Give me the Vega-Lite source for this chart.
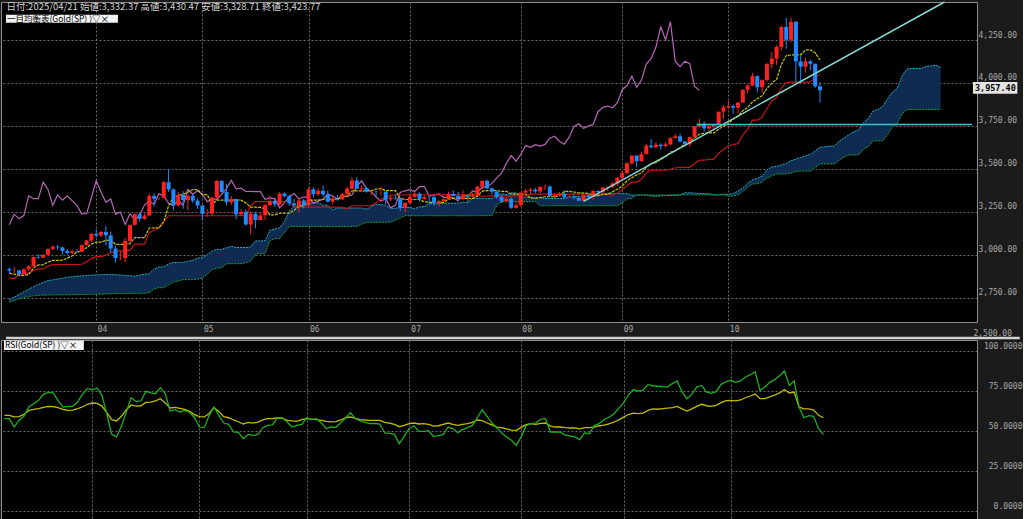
{
"$schema": "https://vega.github.io/schema/vega-lite/v6.json",
"background": "#1b1b1b",
"padding": 0,
"bounds": "flush",
"spacing": 18,
"config": {
 "view": {"fill": "#000000", "stroke": "#8c8c8c", "strokeWidth": 1},
 "axis": {"grid": true, "gridColor": "#6a6a6a", "gridDash": [2, 2], "gridOpacity": 1, "domain": false, "ticks": false, "labelColor": "#a8a8a8", "labelFont": "DejaVu Sans Mono", "labelFontSize": 8}
},
"datasets": {
"note": [{"i": 0}],
"ohlc": [
{"i":0,"o":2918,"h":2927,"l":2895,"c":2910,"tk":2894,"kj":2864,"rsi":57.7,"ma":59.8},
{"i":1,"o":2910,"h":2930,"l":2896,"c":2910,"tk":2888,"kj":2864,"rsi":57.7,"ma":59.8},
{"i":2,"o":2910,"h":2914,"l":2880,"c":2889,"tk":2881,"kj":2883,"rsi":52.5,"ma":58.8},
{"i":3,"o":2889,"h":2922,"l":2881,"c":2916,"tk":2881,"kj":2894,"rsi":56.7,"ma":59},
{"i":4,"o":2916,"h":2940,"l":2906,"c":2934,"tk":2886,"kj":2894,"rsi":59.2,"ma":60.4},
{"i":5,"o":2934,"h":2990,"l":2930,"c":2988,"tk":2924,"kj":2911,"rsi":65,"ma":62.9},
{"i":6,"o":2988,"h":3005,"l":2978,"c":2984,"tk":2942.5,"kj":2918.5,"rsi":67.1,"ma":63.5},
{"i":7,"o":2984,"h":3004,"l":2982,"c":3001,"tk":2942.5,"kj":2918.5,"rsi":69.2,"ma":64},
{"i":8,"o":3001,"h":3038,"l":2999,"c":3035,"tk":2959,"kj":2935,"rsi":72.9,"ma":64.8},
{"i":9,"o":3035,"h":3056,"l":3026,"c":3048,"tk":2968,"kj":2944,"rsi":74.2,"ma":65.4},
{"i":10,"o":3048,"h":3057,"l":3028,"c":3044,"tk":2968.5,"kj":2944.5,"rsi":73.8,"ma":65.2},
{"i":11,"o":3044,"h":3047,"l":2999,"c":3023,"tk":2969,"kj":2944.5,"rsi":69.2,"ma":64.6},
{"i":12,"o":3023,"h":3034,"l":3002,"c":3011,"tk":2981.5,"kj":2944.5,"rsi":65,"ma":63.5},
{"i":13,"o":3011,"h":3030,"l":3007,"c":3020,"tk":2993.5,"kj":2944.5,"rsi":65.4,"ma":62.9},
{"i":14,"o":3020,"h":3032,"l":3013,"c":3019,"tk":3017.5,"kj":2944.5,"rsi":65.4,"ma":63.1},
{"i":15,"o":3019,"h":3060,"l":3017,"c":3057,"tk":3021,"kj":2946,"rsi":68.1,"ma":64},
{"i":16,"o":3057,"h":3087,"l":3055,"c":3084,"tk":3043,"kj":2959.5,"rsi":72.9,"ma":65},
{"i":17,"o":3084,"h":3128,"l":3076,"c":3123,"tk":3063.5,"kj":2980,"rsi":76.5,"ma":66.7},
{"i":18,"o":3123,"h":3149,"l":3100,"c":3113,"tk":3074,"kj":2990.5,"rsi":75.8,"ma":67.5},
{"i":19,"o":3113,"h":3140,"l":3104,"c":3134,"tk":3074,"kj":2990.5,"rsi":76.9,"ma":67.3},
{"i":20,"o":3134,"h":3168,"l":3054,"c":3114,"tk":3085,"kj":3000,"rsi":72.3,"ma":65.6},
{"i":21,"o":3114,"h":3136,"l":3015,"c":3037,"tk":3087.5,"kj":3013,"rsi":60.8,"ma":61.5},
{"i":22,"o":3037,"h":3055,"l":2956,"c":2982,"tk":3062,"kj":3024,"rsi":47.9,"ma":57.1},
{"i":23,"o":2982,"h":3023,"l":2970,"c":2982,"tk":3062,"kj":3024,"rsi":46.3,"ma":56.3},
{"i":24,"o":2982,"h":3099,"l":2957,"c":3082,"tk":3062,"kj":3024,"rsi":52.9,"ma":59.2},
{"i":25,"o":3082,"h":3176,"l":3073,"c":3175,"tk":3066,"kj":3028,"rsi":61.9,"ma":63.3},
{"i":26,"o":3175,"h":3245,"l":3171,"c":3237,"tk":3100.5,"kj":3062.5,"rsi":70.8,"ma":66.3},
{"i":27,"o":3237,"h":3245,"l":3193,"c":3210,"tk":3100.5,"kj":3062.5,"rsi":68.5,"ma":65.6},
{"i":28,"o":3210,"h":3240,"l":3204,"c":3229,"tk":3100.5,"kj":3063,"rsi":68.8,"ma":65.8},
{"i":29,"o":3229,"h":3357,"l":3229,"c":3343,"tk":3156.5,"kj":3131.5,"rsi":74.8,"ma":67.9},
{"i":30,"o":3343,"h":3358,"l":3283,"c":3327,"tk":3157,"kj":3144,"rsi":73.8,"ma":68.1},
{"i":31,"o":3327,"h":3335,"l":3320,"c":3327,"tk":3157.5,"kj":3157,"rsi":73.3,"ma":68.8},
{"i":32,"o":3332,"h":3430,"l":3329,"c":3423,"tk":3193.5,"kj":3193,"rsi":77.1,"ma":70.2},
{"i":33,"o":3423,"h":3500,"l":3367,"c":3381,"tk":3286.5,"kj":3228,"rsi":73.3,"ma":67.5},
{"i":34,"o":3381,"h":3386,"l":3260,"c":3288,"tk":3335.5,"kj":3228,"rsi":62.5,"ma":64.4},
{"i":35,"o":3288,"h":3367,"l":3283,"c":3349,"tk":3346.5,"kj":3228,"rsi":63.3,"ma":64.8},
{"i":36,"o":3349,"h":3371,"l":3268,"c":3319,"tk":3352,"kj":3228,"rsi":61.9,"ma":64.2},
{"i":37,"o":3319,"h":3351,"l":3260,"c":3344,"tk":3364.5,"kj":3228,"rsi":62.9,"ma":63.5},
{"i":38,"o":3344,"h":3353,"l":3303,"c":3316,"tk":3380,"kj":3228,"rsi":61.7,"ma":62.3},
{"i":39,"o":3316,"h":3329,"l":3268,"c":3288,"tk":3380,"kj":3228,"rsi":58.3,"ma":60.2},
{"i":40,"o":3288,"h":3290,"l":3202,"c":3239,"tk":3351,"kj":3228,"rsi":52.5,"ma":59},
{"i":41,"o":3239,"h":3269,"l":3222,"c":3240,"tk":3351,"kj":3228,"rsi":52.1,"ma":58.8},
{"i":42,"o":3240,"h":3336,"l":3228,"c":3334,"tk":3294,"kj":3228,"rsi":59.8,"ma":61},
{"i":43,"o":3334,"h":3435,"l":3323,"c":3431,"tk":3318.5,"kj":3228,"rsi":65,"ma":64.6},
{"i":44,"o":3431,"h":3433,"l":3363,"c":3366,"tk":3318.5,"kj":3228,"rsi":59.8,"ma":62.1},
{"i":45,"o":3366,"h":3414,"l":3288,"c":3306,"tk":3318.5,"kj":3228,"rsi":55,"ma":59},
{"i":46,"o":3306,"h":3342,"l":3292,"c":3325,"tk":3318.5,"kj":3228,"rsi":54.2,"ma":58.3},
{"i":47,"o":3325,"h":3325,"l":3208,"c":3236,"tk":3318.5,"kj":3228,"rsi":49.4,"ma":56.9},
{"i":48,"o":3236,"h":3265,"l":3228,"c":3250,"tk":3318.5,"kj":3228.5,"rsi":49.2,"ma":55.8},
{"i":49,"o":3250,"h":3265,"l":3171,"c":3177,"tk":3303,"kj":3228.5,"rsi":45.2,"ma":54.4},
{"i":50,"o":3177,"h":3252,"l":3120,"c":3240,"tk":3277.5,"kj":3286.5,"rsi":47.9,"ma":55.4},
{"i":51,"o":3240,"h":3252,"l":3154,"c":3203,"tk":3277.5,"kj":3310,"rsi":47.1,"ma":55},
{"i":52,"o":3203,"h":3250,"l":3200,"c":3230,"tk":3276.5,"kj":3310,"rsi":47.9,"ma":55.6},
{"i":53,"o":3230,"h":3295,"l":3205,"c":3290,"tk":3267,"kj":3310,"rsi":52.1,"ma":56.9},
{"i":54,"o":3290,"h":3345,"l":3285,"c":3314,"tk":3232.5,"kj":3310,"rsi":53.5,"ma":57.7},
{"i":55,"o":3314,"h":3325,"l":3278,"c":3294,"tk":3232.5,"kj":3310,"rsi":53.8,"ma":57.7},
{"i":56,"o":3294,"h":3365,"l":3287,"c":3357,"tk":3242.5,"kj":3310,"rsi":58.3,"ma":58.3},
{"i":57,"o":3357,"h":3364,"l":3336,"c":3342,"tk":3242.5,"kj":3310,"rsi":58.3,"ma":58.1},
{"i":58,"o":3342,"h":3350,"l":3286,"c":3300,"tk":3242.5,"kj":3310,"rsi":55.6,"ma":56.7},
{"i":59,"o":3300,"h":3326,"l":3280,"c":3288,"tk":3259.5,"kj":3277.5,"rsi":52.5,"ma":56.3},
{"i":60,"o":3288,"h":3330,"l":3245,"c":3317,"tk":3282.5,"kj":3277.5,"rsi":53.5,"ma":56},
{"i":61,"o":3317,"h":3326,"l":3271,"c":3289,"tk":3285,"kj":3277.5,"rsi":54.2,"ma":57.1},
{"i":62,"o":3289,"h":3392,"l":3279,"c":3381,"tk":3318.5,"kj":3277.5,"rsi":58.3,"ma":57.7},
{"i":63,"o":3381,"h":3392,"l":3333,"c":3353,"tk":3318.5,"kj":3277.5,"rsi":57.1,"ma":57.5},
{"i":64,"o":3353,"h":3386,"l":3343,"c":3373,"tk":3318.5,"kj":3277.5,"rsi":57.7,"ma":57.1},
{"i":65,"o":3373,"h":3403,"l":3340,"c":3352,"tk":3324,"kj":3277.5,"rsi":55,"ma":56.7},
{"i":66,"o":3352,"h":3375,"l":3306,"c":3310,"tk":3324,"kj":3277.5,"rsi":51.5,"ma":56},
{"i":67,"o":3310,"h":3339,"l":3293,"c":3326,"tk":3324,"kj":3277.5,"rsi":52.5,"ma":55.7},
{"i":68,"o":3326,"h":3349,"l":3315,"c":3323,"tk":3324,"kj":3277.5,"rsi":52.3,"ma":55.9},
{"i":69,"o":3323,"h":3360,"l":3320,"c":3354,"tk":3337,"kj":3276.5,"rsi":55.2,"ma":56.9},
{"i":70,"o":3354,"h":3398,"l":3340,"c":3386,"tk":3341,"kj":3267,"rsi":58.3,"ma":58.3},
{"i":71,"o":3386,"h":3451,"l":3380,"c":3433,"tk":3372,"kj":3285.5,"rsi":61.5,"ma":58.8},
{"i":72,"o":3433,"h":3452,"l":3383,"c":3385,"tk":3372.5,"kj":3286,"rsi":57.7,"ma":57.9},
{"i":73,"o":3385,"h":3404,"l":3366,"c":3389,"tk":3372.5,"kj":3286,"rsi":56.3,"ma":57.1},
{"i":74,"o":3389,"h":3395,"l":3362,"c":3369,"tk":3372.5,"kj":3286,"rsi":55.4,"ma":56.9},
{"i":75,"o":3369,"h":3374,"l":3347,"c":3370,"tk":3372.5,"kj":3286,"rsi":54.6,"ma":56.7},
{"i":76,"o":3370,"h":3374,"l":3340,"c":3368,"tk":3383.5,"kj":3303,"rsi":54.8,"ma":56.7},
{"i":77,"o":3368,"h":3398,"l":3347,"c":3368,"tk":3386,"kj":3326,"rsi":54.4,"ma":56.7},
{"i":78,"o":3368,"h":3371,"l":3296,"c":3323,"tk":3374,"kj":3328.5,"rsi":48.8,"ma":55.4},
{"i":79,"o":3323,"h":3347,"l":3312,"c":3332,"tk":3374,"kj":3348.5,"rsi":48.5,"ma":55},
{"i":80,"o":3332,"h":3350,"l":3321,"c":3328,"tk":3374,"kj":3348.5,"rsi":47.9,"ma":54.2},
{"i":81,"o":3328,"h":3330,"l":3255,"c":3274,"tk":3329.5,"kj":3348.5,"rsi":42.1,"ma":52.7},
{"i":82,"o":3274,"h":3305,"l":3247,"c":3303,"tk":3322.5,"kj":3348.5,"rsi":46.7,"ma":53.5},
{"i":83,"o":3303,"h":3358,"l":3296,"c":3338,"tk":3322.5,"kj":3348.5,"rsi":51.5,"ma":54.6},
{"i":84,"o":3338,"h":3365,"l":3330,"c":3357,"tk":3322.5,"kj":3348.5,"rsi":53.3,"ma":55},
{"i":85,"o":3357,"h":3365,"l":3311,"c":3326,"tk":3322.5,"kj":3348.5,"rsi":49.8,"ma":54.4},
{"i":86,"o":3326,"h":3345,"l":3322,"c":3337,"tk":3309,"kj":3349.5,"rsi":49.8,"ma":54.6},
{"i":87,"o":3337,"h":3342,"l":3296,"c":3336,"tk":3306,"kj":3349.5,"rsi":50.2,"ma":54.2},
{"i":88,"o":3336,"h":3345,"l":3287,"c":3301,"tk":3306,"kj":3349.5,"rsi":46.7,"ma":53.1},
{"i":89,"o":3301,"h":3318,"l":3282,"c":3313,"tk":3306,"kj":3349.5,"rsi":47.1,"ma":53.3},
{"i":90,"o":3313,"h":3330,"l":3310,"c":3324,"tk":3306,"kj":3349.5,"rsi":47.7,"ma":54.2},
{"i":91,"o":3324,"h":3368,"l":3321,"c":3355,"tk":3325,"kj":3349.5,"rsi":52.5,"ma":55},
{"i":92,"o":3355,"h":3375,"l":3342,"c":3343,"tk":3328.5,"kj":3349.5,"rsi":51.5,"ma":54.2},
{"i":93,"o":3343,"h":3366,"l":3321,"c":3324,"tk":3328.5,"kj":3349.5,"rsi":49,"ma":53.5},
{"i":94,"o":3324,"h":3377,"l":3319,"c":3347,"tk":3329.5,"kj":3349.5,"rsi":51,"ma":54.2},
{"i":95,"o":3347,"h":3352,"l":3309,"c":3339,"tk":3329.5,"kj":3349.5,"rsi":52.1,"ma":54.6},
{"i":96,"o":3339,"h":3361,"l":3338,"c":3350,"tk":3329.5,"kj":3349.5,"rsi":53.5,"ma":55.4},
{"i":97,"o":3350,"h":3402,"l":3345,"c":3397,"tk":3342,"kj":3349.5,"rsi":58.3,"ma":56.9},
{"i":98,"o":3397,"h":3433,"l":3383,"c":3431,"tk":3371,"kj":3340,"rsi":63.3,"ma":56.5},
{"i":99,"o":3431,"h":3439,"l":3381,"c":3387,"tk":3374,"kj":3343,"rsi":59.2,"ma":55},
{"i":100,"o":3387,"h":3393,"l":3351,"c":3368,"tk":3374,"kj":3343,"rsi":55,"ma":53.8},
{"i":101,"o":3368,"h":3373,"l":3325,"c":3337,"tk":3374,"kj":3343,"rsi":52.1,"ma":52.5},
{"i":102,"o":3337,"h":3345,"l":3301,"c":3314,"tk":3370,"kj":3343,"rsi":48.8,"ma":52.1},
{"i":103,"o":3314,"h":3334,"l":3309,"c":3326,"tk":3370,"kj":3343,"rsi":46.3,"ma":51.3},
{"i":104,"o":3326,"h":3334,"l":3268,"c":3274,"tk":3353.5,"kj":3343,"rsi":44.2,"ma":50.6},
{"i":105,"o":3274,"h":3315,"l":3268,"c":3289,"tk":3353.5,"kj":3343,"rsi":41,"ma":50.4},
{"i":106,"o":3289,"h":3363,"l":3281,"c":3363,"tk":3353.5,"kj":3343,"rsi":46.3,"ma":52.3},
{"i":107,"o":3363,"h":3385,"l":3346,"c":3373,"tk":3353.5,"kj":3343,"rsi":53.3,"ma":54},
{"i":108,"o":3373,"h":3390,"l":3354,"c":3380,"tk":3330.5,"kj":3353.5,"rsi":54.6,"ma":54.6},
{"i":109,"o":3380,"h":3391,"l":3358,"c":3369,"tk":3329.5,"kj":3353.5,"rsi":55,"ma":54.2},
{"i":110,"o":3369,"h":3397,"l":3358,"c":3397,"tk":3332.5,"kj":3353.5,"rsi":57.3,"ma":54.8},
{"i":111,"o":3397,"h":3409,"l":3376,"c":3398,"tk":3338.5,"kj":3353.5,"rsi":57.7,"ma":55},
{"i":112,"o":3398,"h":3405,"l":3342,"c":3342,"tk":3338.5,"kj":3353.5,"rsi":49.4,"ma":53.1},
{"i":113,"o":3342,"h":3359,"l":3331,"c":3348,"tk":3338.5,"kj":3353.5,"rsi":49.4,"ma":52.5},
{"i":114,"o":3348,"h":3365,"l":3341,"c":3355,"tk":3345,"kj":3353.5,"rsi":49.4,"ma":52.5},
{"i":115,"o":3355,"h":3375,"l":3330,"c":3335,"tk":3369.5,"kj":3353.5,"rsi":47.5,"ma":52.1},
{"i":116,"o":3335,"h":3348,"l":3330,"c":3336,"tk":3369.5,"kj":3353.5,"rsi":46.9,"ma":51.9},
{"i":117,"o":3336,"h":3358,"l":3323,"c":3332,"tk":3366,"kj":3353.5,"rsi":46.3,"ma":51.9},
{"i":118,"o":3332,"h":3335,"l":3314,"c":3315,"tk":3361.5,"kj":3353.5,"rsi":44.6,"ma":51.3},
{"i":119,"o":3315,"h":3350,"l":3311,"c":3348,"tk":3360,"kj":3353.5,"rsi":48.8,"ma":52.1},
{"i":120,"o":3348,"h":3352,"l":3323,"c":3339,"tk":3358,"kj":3353.5,"rsi":48.3,"ma":52.1},
{"i":121,"o":3339,"h":3379,"l":3321,"c":3372,"tk":3345,"kj":3353.5,"rsi":53.5,"ma":52.5},
{"i":122,"o":3372,"h":3376,"l":3351,"c":3365,"tk":3345,"kj":3353.5,"rsi":54.6,"ma":53.3},
{"i":123,"o":3365,"h":3393,"l":3351,"c":3393,"tk":3352,"kj":3353.5,"rsi":57.2,"ma":53.7},
{"i":124,"o":3393,"h":3394,"l":3372,"c":3397,"tk":3352.5,"kj":3353.5,"rsi":58.6,"ma":54.5},
{"i":125,"o":3397,"h":3424,"l":3390,"c":3416,"tk":3367.5,"kj":3346,"rsi":60.6,"ma":55.5},
{"i":126,"o":3416,"h":3453,"l":3400,"c":3448,"tk":3382,"kj":3360.5,"rsi":64.2,"ma":57},
{"i":127,"o":3448,"h":3490,"l":3436,"c":3476,"tk":3400.5,"kj":3379,"rsi":67.6,"ma":58.7},
{"i":128,"o":3476,"h":3540,"l":3470,"c":3533,"tk":3430.5,"kj":3404,"rsi":72.5,"ma":60.3},
{"i":129,"o":3533,"h":3578,"l":3525,"c":3578,"tk":3449.5,"kj":3423,"rsi":75.9,"ma":61.2},
{"i":130,"o":3578,"h":3580,"l":3510,"c":3545,"tk":3465.5,"kj":3424,"rsi":74.9,"ma":60.9},
{"i":131,"o":3545,"h":3600,"l":3542,"c":3586,"tk":3475.5,"kj":3440.5,"rsi":75.6,"ma":61.2},
{"i":132,"o":3586,"h":3646,"l":3585,"c":3636,"tk":3509,"kj":3478.5,"rsi":79,"ma":62.9},
{"i":133,"o":3636,"h":3674,"l":3621,"c":3626,"tk":3532,"kj":3492.5,"rsi":78.3,"ma":63.8},
{"i":134,"o":3626,"h":3655,"l":3620,"c":3641,"tk":3537,"kj":3492.5,"rsi":78,"ma":63.6},
{"i":135,"o":3641,"h":3650,"l":3612,"c":3633,"tk":3555,"kj":3492.5,"rsi":77.7,"ma":64},
{"i":136,"o":3633,"h":3655,"l":3625,"c":3643,"tk":3572,"kj":3492.5,"rsi":77.5,"ma":64.3},
{"i":137,"o":3643,"h":3685,"l":3638,"c":3679,"tk":3597.5,"kj":3498,"rsi":79.6,"ma":64.6},
{"i":138,"o":3679,"h":3703,"l":3678,"c":3690,"tk":3606.5,"kj":3507,"rsi":81.3,"ma":65.4},
{"i":139,"o":3690,"h":3707,"l":3654,"c":3660,"tk":3624.5,"kj":3509,"rsi":74.4,"ma":63.8},
{"i":140,"o":3660,"h":3663,"l":3628,"c":3644,"tk":3646,"kj":3509,"rsi":70.2,"ma":62.5},
{"i":141,"o":3644,"h":3688,"l":3632,"c":3685,"tk":3659.5,"kj":3509,"rsi":72.9,"ma":63.8},
{"i":142,"o":3685,"h":3749,"l":3684,"c":3747,"tk":3680.5,"kj":3530,"rsi":77.5,"ma":65.4},
{"i":143,"o":3747,"h":3791,"l":3742,"c":3763,"tk":3701.5,"kj":3551,"rsi":78.5,"ma":66.7},
{"i":144,"o":3763,"h":3776,"l":3717,"c":3736,"tk":3708,"kj":3551,"rsi":74.4,"ma":65.8},
{"i":145,"o":3736,"h":3761,"l":3722,"c":3749,"tk":3709.5,"kj":3556,"rsi":73.5,"ma":65.4},
{"i":146,"o":3749,"h":3762,"l":3722,"c":3760,"tk":3709.5,"kj":3556,"rsi":74.6,"ma":66},
{"i":147,"o":3760,"h":3834,"l":3757,"c":3833,"tk":3731,"kj":3592.5,"rsi":79.2,"ma":67.7},
{"i":148,"o":3833,"h":3872,"l":3792,"c":3858,"tk":3750,"kj":3611.5,"rsi":80.8,"ma":69},
{"i":149,"o":3858,"h":3895,"l":3850,"c":3866,"tk":3763.5,"kj":3633.5,"rsi":81.7,"ma":69.2},
{"i":150,"o":3866,"h":3875,"l":3820,"c":3856,"tk":3789.5,"kj":3642.5,"rsi":80.4,"ma":68.8},
{"i":151,"o":3856,"h":3889,"l":3823,"c":3886,"tk":3806,"kj":3647.5,"rsi":81.3,"ma":69.4},
{"i":152,"o":3886,"h":3962,"l":3884,"c":3961,"tk":3839.5,"kj":3699,"rsi":83.8,"ma":70.8},
{"i":153,"o":3961,"h":3991,"l":3940,"c":3985,"tk":3856.5,"kj":3730.5,"rsi":85.2,"ma":71.9},
{"i":154,"o":3985,"h":4059,"l":3981,"c":4040,"tk":3890.5,"kj":3784.5,"rsi":86.9,"ma":73.1},
{"i":155,"o":4040,"h":4045,"l":3945,"c":3975,"tk":3908,"kj":3784.5,"rsi":75.4,"ma":70.2},
{"i":156,"o":3975,"h":4022,"l":3947,"c":4017,"tk":3925.5,"kj":3800.5,"rsi":77.5,"ma":70.2},
{"i":157,"o":4017,"h":4116,"l":4007,"c":4110,"tk":3968,"kj":3850.5,"rsi":80.4,"ma":71.3},
{"i":158,"o":4110,"h":4179,"l":4085,"c":4142,"tk":3999.5,"kj":3895.5,"rsi":82.1,"ma":72.5},
{"i":159,"o":4142,"h":4218,"l":4105,"c":4209,"tk":4020.5,"kj":3915,"rsi":84.6,"ma":73.8},
{"i":160,"o":4209,"h":4332,"l":4190,"c":4326,"tk":4108,"kj":3972,"rsi":87.5,"ma":76},
{"i":161,"o":4326,"h":4379,"l":4200,"c":4251,"tk":4159.5,"kj":4002,"rsi":78.5,"ma":73.8},
{"i":162,"o":4251,"h":4381,"l":4235,"c":4356,"tk":4163,"kj":4004.5,"rsi":81.3,"ma":74.4},
{"i":163,"o":4356,"h":4360,"l":4003,"c":4125,"tk":4163,"kj":4004.5,"rsi":65,"ma":65},
{"i":164,"o":4125,"h":4161,"l":4004,"c":4095,"tk":4164,"kj":4004.5,"rsi":58.3,"ma":63.8},
{"i":165,"o":4095,"h":4147,"l":4060,"c":4126,"tk":4192,"kj":4004.5,"rsi":59.6,"ma":63.8},
{"i":166,"o":4126,"h":4137,"l":4073,"c":4112,"tk":4192,"kj":4006.5,"rsi":59.2,"ma":63.1},
{"i":167,"o":4112,"h":4112,"l":3971,"c":3981,"tk":4176,"kj":4032.5,"rsi":51.5,"ma":59.8},
{"i":168,"o":3981,"h":4004,"l":3886,"c":3957,"tk":4133.5,"kj":4049,"rsi":47.9,"ma":58.3}
],
"chikou": [
{"i":0,"v":3175},{"i":1,"v":3237},{"i":2,"v":3210},{"i":3,"v":3229},{"i":4,"v":3343},{"i":5,"v":3327},{"i":6,"v":3327},{"i":7,"v":3423},{"i":8,"v":3381},{"i":9,"v":3288},
{"i":10,"v":3349},{"i":11,"v":3319},{"i":12,"v":3344},{"i":13,"v":3316},{"i":14,"v":3288},{"i":15,"v":3239},{"i":16,"v":3240},{"i":17,"v":3334},{"i":18,"v":3431},{"i":19,"v":3366},
{"i":20,"v":3306},{"i":21,"v":3325},{"i":22,"v":3236},{"i":23,"v":3250},{"i":24,"v":3177},{"i":25,"v":3240},{"i":26,"v":3203},{"i":27,"v":3230},{"i":28,"v":3290},{"i":29,"v":3314},
{"i":30,"v":3294},{"i":31,"v":3357},{"i":32,"v":3342},{"i":33,"v":3300},{"i":34,"v":3288},{"i":35,"v":3317},{"i":36,"v":3289},{"i":37,"v":3381},{"i":38,"v":3353},{"i":39,"v":3373},
{"i":40,"v":3352},{"i":41,"v":3310},{"i":42,"v":3326},{"i":43,"v":3323},{"i":44,"v":3354},{"i":45,"v":3386},{"i":46,"v":3433},{"i":47,"v":3385},{"i":48,"v":3389},{"i":49,"v":3369},
{"i":50,"v":3370},{"i":51,"v":3368},{"i":52,"v":3368},{"i":53,"v":3323},{"i":54,"v":3332},{"i":55,"v":3328},{"i":56,"v":3274},{"i":57,"v":3303},{"i":58,"v":3338},{"i":59,"v":3357},
{"i":60,"v":3326},{"i":61,"v":3337},{"i":62,"v":3336},{"i":63,"v":3301},{"i":64,"v":3313},{"i":65,"v":3324},{"i":66,"v":3355},{"i":67,"v":3343},{"i":68,"v":3324},{"i":69,"v":3347},
{"i":70,"v":3339},{"i":71,"v":3350},{"i":72,"v":3397},{"i":73,"v":3431},{"i":74,"v":3387},{"i":75,"v":3368},{"i":76,"v":3337},{"i":77,"v":3314},{"i":78,"v":3326},{"i":79,"v":3274},
{"i":80,"v":3289},{"i":81,"v":3363},{"i":82,"v":3373},{"i":83,"v":3380},{"i":84,"v":3369},{"i":85,"v":3397},{"i":86,"v":3398},{"i":87,"v":3342},{"i":88,"v":3348},{"i":89,"v":3355},
{"i":90,"v":3335},{"i":91,"v":3336},{"i":92,"v":3332},{"i":93,"v":3315},{"i":94,"v":3348},{"i":95,"v":3339},{"i":96,"v":3372},{"i":97,"v":3365},{"i":98,"v":3393},{"i":99,"v":3397},
{"i":100,"v":3416},{"i":101,"v":3448},{"i":102,"v":3476},{"i":103,"v":3533},{"i":104,"v":3578},{"i":105,"v":3545},{"i":106,"v":3586},{"i":107,"v":3636},{"i":108,"v":3626},{"i":109,"v":3641},
{"i":110,"v":3633},{"i":111,"v":3643},{"i":112,"v":3679},{"i":113,"v":3690},{"i":114,"v":3660},{"i":115,"v":3644},{"i":116,"v":3685},{"i":117,"v":3747},{"i":118,"v":3763},{"i":119,"v":3736},
{"i":120,"v":3749},{"i":121,"v":3760},{"i":122,"v":3833},{"i":123,"v":3858},{"i":124,"v":3866},{"i":125,"v":3856},{"i":126,"v":3886},{"i":127,"v":3961},{"i":128,"v":3985},{"i":129,"v":4040},
{"i":130,"v":3975},{"i":131,"v":4017},{"i":132,"v":4110},{"i":133,"v":4142},{"i":134,"v":4209},{"i":135,"v":4326},{"i":136,"v":4251},{"i":137,"v":4356},{"i":138,"v":4125},{"i":139,"v":4095},
{"i":140,"v":4126},{"i":141,"v":4112},{"i":142,"v":3981},{"i":143,"v":3957}
],
"cloud": [
{"i":0,"a":2738,"b":2725},{"i":1,"a":2755,"b":2735},{"i":2,"a":2770,"b":2745},{"i":3,"a":2785,"b":2752},{"i":4,"a":2800,"b":2758},{"i":5,"a":2815,"b":2762},{"i":6,"a":2828,"b":2765},{"i":7,"a":2840,"b":2766},{"i":8,"a":2850,"b":2767},{"i":9,"a":2855,"b":2767},
{"i":10,"a":2860,"b":2768},{"i":11,"a":2865,"b":2768},{"i":12,"a":2870,"b":2768},{"i":13,"a":2873,"b":2769},{"i":14,"a":2876,"b":2769},{"i":15,"a":2878,"b":2770},{"i":16,"a":2880,"b":2770},{"i":17,"a":2882,"b":2771},{"i":18,"a":2884,"b":2772},{"i":19,"a":2885,"b":2772},
{"i":20,"a":2886,"b":2773},{"i":21,"a":2886,"b":2774},{"i":22,"a":2885,"b":2775},{"i":23,"a":2883,"b":2776},{"i":24,"a":2881,"b":2776},{"i":25,"a":2879,"b":2776.5},{"i":26,"a":2876,"b":2776.5},{"i":27,"a":2882,"b":2776.5},{"i":28,"a":2887.5,"b":2776.5},{"i":29,"a":2890,"b":2780.5},
{"i":30,"a":2917.5,"b":2802},{"i":31,"a":2930.5,"b":2809.5},{"i":32,"a":2930.5,"b":2809.5},{"i":33,"a":2947,"b":2826},{"i":34,"a":2956,"b":2843},{"i":35,"a":2956.5,"b":2848.5},{"i":36,"a":2956.75,"b":2856.5},{"i":37,"a":2963,"b":2856.5},{"i":38,"a":2969,"b":2856.5},{"i":39,"a":2981,"b":2859},
{"i":40,"a":2983.5,"b":2866},{"i":41,"a":3001,"b":2888.5},{"i":42,"a":3022,"b":2914},{"i":43,"a":3032,"b":2924.5},{"i":44,"a":3032,"b":2924.5},{"i":45,"a":3042.5,"b":2949},{"i":46,"a":3050,"b":2949},{"i":47,"a":3043,"b":2949},{"i":48,"a":3043,"b":2949},{"i":49,"a":3043,"b":2954},
{"i":50,"a":3047,"b":2965.5},{"i":51,"a":3081.5,"b":3002.5},{"i":52,"a":3081.5,"b":3008.5},{"i":53,"a":3082,"b":3008.5},{"i":54,"a":3144,"b":3083.5},{"i":55,"a":3150.5,"b":3095},{"i":56,"a":3157,"b":3095},{"i":57,"a":3193,"b":3131},{"i":58,"a":3257,"b":3166},{"i":59,"a":3282,"b":3166},
{"i":60,"a":3287,"b":3166},{"i":61,"a":3290,"b":3166},{"i":62,"a":3296,"b":3166},{"i":63,"a":3304,"b":3166},{"i":64,"a":3304,"b":3166},{"i":65,"a":3289.5,"b":3166},{"i":66,"a":3289.5,"b":3166},{"i":67,"a":3261,"b":3166},{"i":68,"a":3273,"b":3166},{"i":69,"a":3273,"b":3166},
{"i":70,"a":3273,"b":3166},{"i":71,"a":3273,"b":3166},{"i":72,"a":3273,"b":3166},{"i":73,"a":3273.5,"b":3179},{"i":74,"a":3266,"b":3190},{"i":75,"a":3282,"b":3190},{"i":76,"a":3294,"b":3190},{"i":77,"a":3293,"b":3190},{"i":78,"a":3288.5,"b":3190},{"i":79,"a":3271,"b":3190.5},
{"i":80,"a":3271,"b":3203},{"i":81,"a":3276,"b":3215},{"i":82,"a":3276,"b":3228},{"i":83,"a":3276,"b":3228},{"i":84,"a":3268.5,"b":3228},{"i":85,"a":3280,"b":3228},{"i":86,"a":3281,"b":3228},{"i":87,"a":3298,"b":3228},{"i":88,"a":3298,"b":3228},{"i":89,"a":3298,"b":3228},
{"i":90,"a":3301,"b":3228},{"i":91,"a":3301,"b":3228},{"i":92,"a":3301,"b":3228},{"i":93,"a":3301,"b":3228},{"i":94,"a":3307,"b":3228},{"i":95,"a":3304,"b":3228},{"i":96,"a":3329,"b":3228},{"i":97,"a":3329,"b":3228},{"i":98,"a":3329,"b":3228},{"i":99,"a":3329,"b":3228.5},
{"i":100,"a":3329,"b":3228.5},{"i":101,"a":3343,"b":3286.5},{"i":102,"a":3356,"b":3310},{"i":103,"a":3351,"b":3310},{"i":104,"a":3361,"b":3310},{"i":105,"a":3361,"b":3310},{"i":106,"a":3339,"b":3310},{"i":107,"a":3335.5,"b":3310},{"i":108,"a":3335.5,"b":3310},{"i":109,"a":3335.5,"b":3310},
{"i":110,"a":3335.5,"b":3286},{"i":111,"a":3329,"b":3286},{"i":112,"a":3328,"b":3286},{"i":113,"a":3328,"b":3286},{"i":114,"a":3328,"b":3286},{"i":115,"a":3328,"b":3286},{"i":116,"a":3337,"b":3286},{"i":117,"a":3339,"b":3286},{"i":118,"a":3339,"b":3286},{"i":119,"a":3339.5,"b":3286},
{"i":120,"a":3339.5,"b":3286},{"i":121,"a":3339.5,"b":3286},{"i":122,"a":3346,"b":3286},{"i":123,"a":3355.5,"b":3286},{"i":124,"a":3358.5,"b":3286},{"i":125,"a":3358.5,"b":3286},{"i":126,"a":3358.5,"b":3286},{"i":127,"a":3356.5,"b":3303},{"i":128,"a":3356.5,"b":3326},{"i":129,"a":3348,"b":3328.5},
{"i":130,"a":3348,"b":3348.5},{"i":131,"a":3348,"b":3348.5},{"i":132,"a":3348,"b":3348.5},{"i":133,"a":3342,"b":3348.5},{"i":134,"a":3341.5,"b":3348.5},{"i":135,"a":3343,"b":3348.5},{"i":136,"a":3346,"b":3348.5},{"i":137,"a":3346,"b":3349.5},{"i":138,"a":3346,"b":3349.5},{"i":139,"a":3349,"b":3349.5},
{"i":140,"a":3361.5,"b":3349.5},{"i":141,"a":3361.5,"b":3349.5},{"i":142,"a":3360,"b":3349.5},{"i":143,"a":3357.5,"b":3349.5},{"i":144,"a":3357,"b":3349.5},{"i":145,"a":3356,"b":3349.5},{"i":146,"a":3349,"b":3349.5},{"i":147,"a":3349,"b":3349.5},{"i":148,"a":3353,"b":3349.5},{"i":149,"a":3353,"b":3343},
{"i":150,"a":3357,"b":3343},{"i":151,"a":3371,"b":3350},{"i":152,"a":3390,"b":3368.5},{"i":153,"a":3417,"b":3393.5},{"i":154,"a":3436,"b":3412.5},{"i":155,"a":3445,"b":3413.5},{"i":156,"a":3458,"b":3423.5},{"i":157,"a":3494,"b":3446.5},{"i":158,"a":3512,"b":3460.5},{"i":159,"a":3515,"b":3471},
{"i":160,"a":3524,"b":3471},{"i":161,"a":3532,"b":3471},{"i":162,"a":3548,"b":3476.5},{"i":163,"a":3557,"b":3485.5},{"i":164,"a":3567,"b":3487.5},{"i":165,"a":3577.5,"b":3487.5},{"i":166,"a":3584,"b":3487.5},{"i":167,"a":3605,"b":3508.5},{"i":168,"a":3626,"b":3529.5},{"i":169,"a":3629.5,"b":3529.5},
{"i":170,"a":3633,"b":3529.5},{"i":171,"a":3633,"b":3529.5},{"i":172,"a":3662,"b":3551},{"i":173,"a":3681,"b":3570},{"i":174,"a":3698.5,"b":3581.5},{"i":175,"a":3716,"b":3581.5},{"i":176,"a":3727,"b":3581.5},{"i":177,"a":3769,"b":3615},{"i":178,"a":3793.5,"b":3629.5},{"i":179,"a":3837.5,"b":3663.5},
{"i":180,"a":3846,"b":3663.5},{"i":181,"a":3863,"b":3663.5},{"i":182,"a":3909,"b":3698.5},{"i":183,"a":3947.5,"b":3745},{"i":184,"a":3968,"b":3764.5},{"i":185,"a":4040,"b":3821.5},{"i":186,"a":4081,"b":3845},{"i":187,"a":4084,"b":3846},{"i":188,"a":4084,"b":3846},{"i":189,"a":4084,"b":3846},
{"i":190,"a":4098,"b":3846},{"i":191,"a":4099,"b":3846},{"i":192,"a":4104,"b":3846},{"i":193,"a":4091,"b":3846}
],
"trend": [{"x1":119,"y1":3311,"x2":193.8,"y2":4471}],
"hline": [{"x1":142.4,"x2":199.5,"y":3758}]
},
"vconcat": [
{
 "width": 976,
 "height": 320,
 "encoding": {
  "x": {"field": "i", "type": "quantitative", "title": null,
   "scale": {"domain": [-0.7, 199.5], "nice": false, "zero": false},
   "axis": {"values": [18, 40, 62, 83, 106, 127, 149], "labelExpr": "datum.value==18?'04':datum.value==40?'05':datum.value==62?'06':datum.value==83?'07':datum.value==106?'08':datum.value==127?'09':'10'", "labelAlign": "left", "labelBaseline": "top", "labelPadding": 3, "labelOffset": 1, "labelFontSize": 8}}
 },
 "layer": [
  {"data": {"name": "cloud"}, "mark": {"type": "area", "color": "#0f2b52", "opacity": 1},
   "encoding": {"y": {"field": "a", "type": "quantitative", "title": null,
     "scale": {"domain": [2610, 4471], "nice": false, "zero": false},
     "axis": {"orient": "right", "values": [2750, 3000, 3250, 3500, 3750, 4000, 4250], "format": ",.2f", "labelAlign": "left", "labelBaseline": "bottom", "labelOffset": -1, "labelPadding": 1}},
    "y2": {"field": "b"}}},
  {"data": {"name": "cloud"}, "mark": {"type": "line", "color": "#23b4c4", "strokeWidth": 1, "strokeDash": [2, 1]},
   "encoding": {"y": {"field": "a", "type": "quantitative", "title": null}}},
  {"data": {"name": "cloud"}, "mark": {"type": "line", "color": "#1aa02a", "strokeWidth": 1, "strokeDash": [2, 1]},
   "encoding": {"y": {"field": "b", "type": "quantitative", "title": null}}},
  {"data": {"name": "chikou"}, "mark": {"type": "line", "color": "#b865b8", "strokeWidth": 1.2},
   "encoding": {"y": {"field": "v", "type": "quantitative", "title": null}}},
  {"data": {"name": "ohlc"}, "mark": {"type": "line", "color": "#c41414", "strokeWidth": 1.2},
   "encoding": {"y": {"field": "kj", "type": "quantitative", "title": null}}},
  {"data": {"name": "ohlc"}, "mark": {"type": "line", "color": "#c8c400", "strokeWidth": 1.2, "strokeDash": [3, 1]},
   "encoding": {"y": {"field": "tk", "type": "quantitative", "title": null}}},
  {"data": {"name": "ohlc"}, "mark": {"type": "rule", "strokeWidth": 1},
   "encoding": {"y": {"field": "l", "type": "quantitative", "title": null}, "y2": {"field": "h"},
    "color": {"condition": {"test": "datum.c >= datum.o", "value": "#ff2020"}, "value": "#1e8cff"}}},
  {"data": {"name": "ohlc"}, "mark": {"type": "bar", "width": 4},
   "encoding": {"y": {"field": "o", "type": "quantitative", "title": null}, "y2": {"field": "c"},
    "color": {"condition": {"test": "datum.c >= datum.o", "value": "#ff2020"}, "value": "#1e8cff"}}},
  {"data": {"name": "trend"}, "mark": {"type": "rule", "color": "#86d6d6", "strokeWidth": 1.5},
   "encoding": {"x": {"field": "x1", "type": "quantitative"}, "x2": {"field": "x2"}, "y": {"field": "y1", "type": "quantitative", "title": null}, "y2": {"field": "y2"}}},
  {"data": {"name": "hline"}, "mark": {"type": "rule", "color": "#3ec4cc", "strokeWidth": 1.5},
   "encoding": {"x": {"field": "x1", "type": "quantitative"}, "x2": {"field": "x2"}, "y": {"field": "y", "type": "quantitative", "title": null}}},
  {"data": {"name": "note"}, "mark": {"type": "text", "text": "日付:2025/04/21 始値:3,332.37 高値:3,430.47 安値:3,328.71 終値:3,423.77", "font": "Noto Sans CJK JP", "fontSize": 9.5, "color": "#d4d4d4", "align": "left", "baseline": "middle"},
   "encoding": {"x": {"datum": -0.6}, "y": {"datum": 4440}}},
  {"data": {"name": "note"}, "mark": {"type": "rect", "color": "#f2f2f2"},
   "encoding": {"x": {"datum": -0.7}, "x2": {"datum": 22.5}, "y": {"datum": 4397}, "y2": {"datum": 4350}}},
  {"data": {"name": "note"}, "mark": {"type": "text", "text": "一目均衡表(Gold(SP) )▽×", "font": "Noto Sans CJK JP", "fontSize": 8.5, "color": "#000000", "align": "left", "baseline": "middle"},
   "encoding": {"x": {"datum": -0.5}, "y": {"datum": 4374}}},
  {"data": {"name": "note"}, "mark": {"type": "rect", "color": "#e4e4e4"},
   "encoding": {"x": {"datum": 199.7}, "x2": {"datum": 208.9}, "y": {"datum": 4006}, "y2": {"datum": 3937}}},
  {"data": {"name": "note"}, "mark": {"type": "text", "text": "3,957.40", "font": "DejaVu Sans Mono", "fontSize": 8.5, "fontWeight": "bold", "color": "#000000", "align": "left", "baseline": "middle"},
   "encoding": {"x": {"datum": 200.1}, "y": {"datum": 3971}}},
  {"data": {"name": "note"}, "mark": {"type": "text", "text": "2,500.00", "font": "DejaVu Sans Mono", "fontSize": 8, "color": "#a8a8a8", "align": "left", "baseline": "alphabetic"},
   "encoding": {"x": {"datum": 199.8}, "y": {"datum": 2529}}},
  {"data": {"name": "note"}, "mark": {"type": "rule", "color": "#d0d0d0", "strokeWidth": 2.5},
   "encoding": {"x": {"datum": -0.7}, "x2": {"datum": 209.4}, "y": {"datum": 2517}}}
 ]
},
{
 "width": 976,
 "height": 181,
 "encoding": {
  "x": {"field": "i", "type": "quantitative", "title": null,
   "scale": {"domain": [-0.7, 199.5], "nice": false, "zero": false},
   "axis": {"values": [18, 40, 62, 83, 106, 127, 149], "labels": false}}
 },
 "layer": [
  {"data": {"name": "ohlc"}, "mark": {"type": "line", "color": "#c0bc00", "strokeWidth": 1.3},
   "encoding": {"y": {"field": "ma", "type": "quantitative", "title": null,
    "scale": {"domain": [-6.25, 106.9], "nice": false, "zero": false},
    "axis": {"orient": "right", "values": [0, 25, 50, 75, 100], "format": ".4f", "labelAlign": "right", "labelBaseline": "bottom", "labelOffset": -1, "labelPadding": 45}}}},
  {"data": {"name": "ohlc"}, "mark": {"type": "line", "color": "#1fae1f", "strokeWidth": 1.3},
   "encoding": {"y": {"field": "rsi", "type": "quantitative", "title": null}}},
  {"data": {"name": "note"}, "mark": {"type": "rect", "color": "#f2f2f2"},
   "encoding": {"x": {"datum": -0.1}, "x2": {"datum": 16.3}, "y": {"datum": 106.6}, "y2": {"datum": 100.6}}},
  {"data": {"name": "note"}, "mark": {"type": "text", "text": "RSI(Gold(SP) )▽×", "font": "Noto Sans CJK JP", "fontSize": 8.5, "color": "#000000", "align": "left", "baseline": "middle"},
   "encoding": {"x": {"datum": 0.1}, "y": {"datum": 103.6}}}
 ]
}
]
}
